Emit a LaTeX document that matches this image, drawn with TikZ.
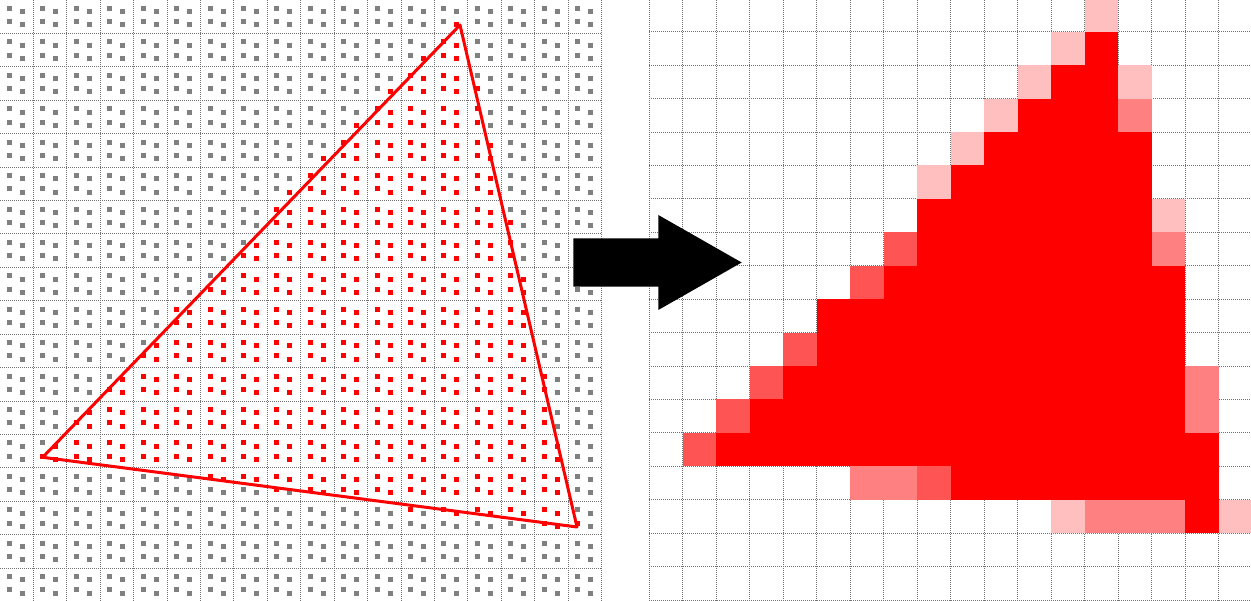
\documentclass[tikz,border=0pt]{standalone}
\newcommand\sampoff[1]{\ifcase#1\or\def\sdx{9.5}\def\sdy{8.5}\or\def\sdx{22.5}\def\sdy{11.8}\or\def\sdx{9.5}\def\sdy{21.8}\or\def\sdx{22.5}\def\sdy{25}\fi}
\def\Ls{33.42}
\def\Rx{649.3}\def\Ry{-1.7}\def\Rsx{33.5}\def\Rsy{33.43}
\tikzset{
  gridline/.style={black!55, line width=0.9pt, dash pattern=on 1pt off 1pt},
  tri/.style={draw=red, line width=3pt, line join=round},
  bigarrow/.style={fill=black},
}
\begin{document}
\begin{tikzpicture}[x=1pt,y=-1pt]
\useasboundingbox (0,0) rectangle (1251,601);
% ---------- left panel: grid ----------
\foreach \k in {1,...,18} {
  \draw[gridline] ({\k*\Ls},0) -- ({\k*\Ls},601);
}
\foreach \k in {1,...,17} {
  \draw[gridline] (0,{\k*\Ls}) -- ({18*\Ls},{\k*\Ls});
}
% gray samples
\foreach \c in {0,...,17} {
  \foreach \r in {0,...,17} {
    \foreach \k in {1,2,3,4} {
      \sampoff{\k}
      \fill[gray] ({\c*\Ls+\sdx-2.5},{\r*\Ls+\sdy-2.5}) rectangle ++(5,5);
    }
  }
}
% red samples: fully covered cells
\foreach \r/\a/\b in {1/13/13,2/12/13,3/11/13,4/10/14,5/9/14,6/8/14,7/8/14,8/7/15,9/5/15,10/5/15,11/4/15,12/3/15,13/2/16,14/9/16,15/16/16} {
  \foreach \c in {\a,...,\b} {
    \foreach \k in {1,2,3,4} {
      \sampoff{\k}
      \fill[red] ({\c*\Ls+\sdx-2.5},{\r*\Ls+\sdy-2.5}) rectangle ++(5,5);
    }
  }
}
% red samples: partly covered cells
\foreach \c/\r/\k in {13/0/4,12/1/4,11/2/4,14/2/3,10/3/4,14/3/3,14/3/1,9/4/4,8/5/4,15/6/3,
  7/7/4,7/7/2,7/7/3,15/7/3,15/7/1,6/8/4,6/8/2,6/8/3,4/10/4,4/10/2,4/10/3,
  3/11/4,3/11/2,3/11/3,16/11/3,16/11/1,2/12/4,2/12/2,2/12/3,16/12/3,16/12/1,
  1/13/4,1/13/2,1/13/3,6/14/1,6/14/2,7/14/1,7/14/2,8/14/1,8/14/2,8/14/3,
  12/15/1,13/15/1,13/15/2,14/15/1,14/15/2,15/15/1,15/15/2,17/15/3} {
  \sampoff{\k}
  \fill[red] ({\c*\Ls+\sdx-2.5},{\r*\Ls+\sdy-2.5}) rectangle ++(5,5);
}
% triangle
\coordinate (A) at (460,25);
\coordinate (B) at (42.7,457.3);
\coordinate (C) at (577,527);
\draw[tri] (A) -- (B) -- (C) -- cycle;
% ---------- right panel: grid ----------
\foreach \k in {0,...,17} {
  \draw[gridline] ({\Rx+\k*\Rsx},0) -- ({\Rx+\k*\Rsx},601);
}
\foreach \k in {1,...,18} {
  \draw[gridline] (\Rx,{\Ry+\k*\Rsy}) -- (1251,{\Ry+\k*\Rsy});
}
% full pixels
\foreach \r/\a/\b in {1/13/13,2/12/13,3/11/13,4/10/14,5/9/14,6/8/14,7/8/14,8/7/15,9/5/15,10/5/15,11/4/15,12/3/15,13/2/16,14/9/16,15/16/16} {
  \fill[red] ({\Rx+\a*\Rsx},{\Ry+\r*\Rsy-0.1}) rectangle ({\Rx+(\b+1)*\Rsx},{\Ry+(\r+1)*\Rsy+0.1});
}
% partial pixels
\foreach \c/\r/\p in {13/0/25,12/1/25,11/2/25,14/2/25,10/3/25,14/3/50,9/4/25,8/5/25,15/6/25,
  7/7/67,15/7/50,6/8/67,4/10/67,3/11/67,16/11/50,2/12/67,16/12/50,1/13/67,
  6/14/50,7/14/50,8/14/67,12/15/25,13/15/50,14/15/50,15/15/50,17/15/25} {
  \fill[red!\p] ({\Rx+\c*\Rsx},{\Ry+\r*\Rsy}) rectangle ++(\Rsx,\Rsy);
}
% ---------- arrow ----------
\fill[bigarrow] (573.3,238.3) -- (658.3,238.3) -- (658.3,215) -- (741.7,262.5)
  -- (658.3,310) -- (658.3,286.7) -- (573.3,286.7) -- cycle;
\end{tikzpicture}
\end{document}
